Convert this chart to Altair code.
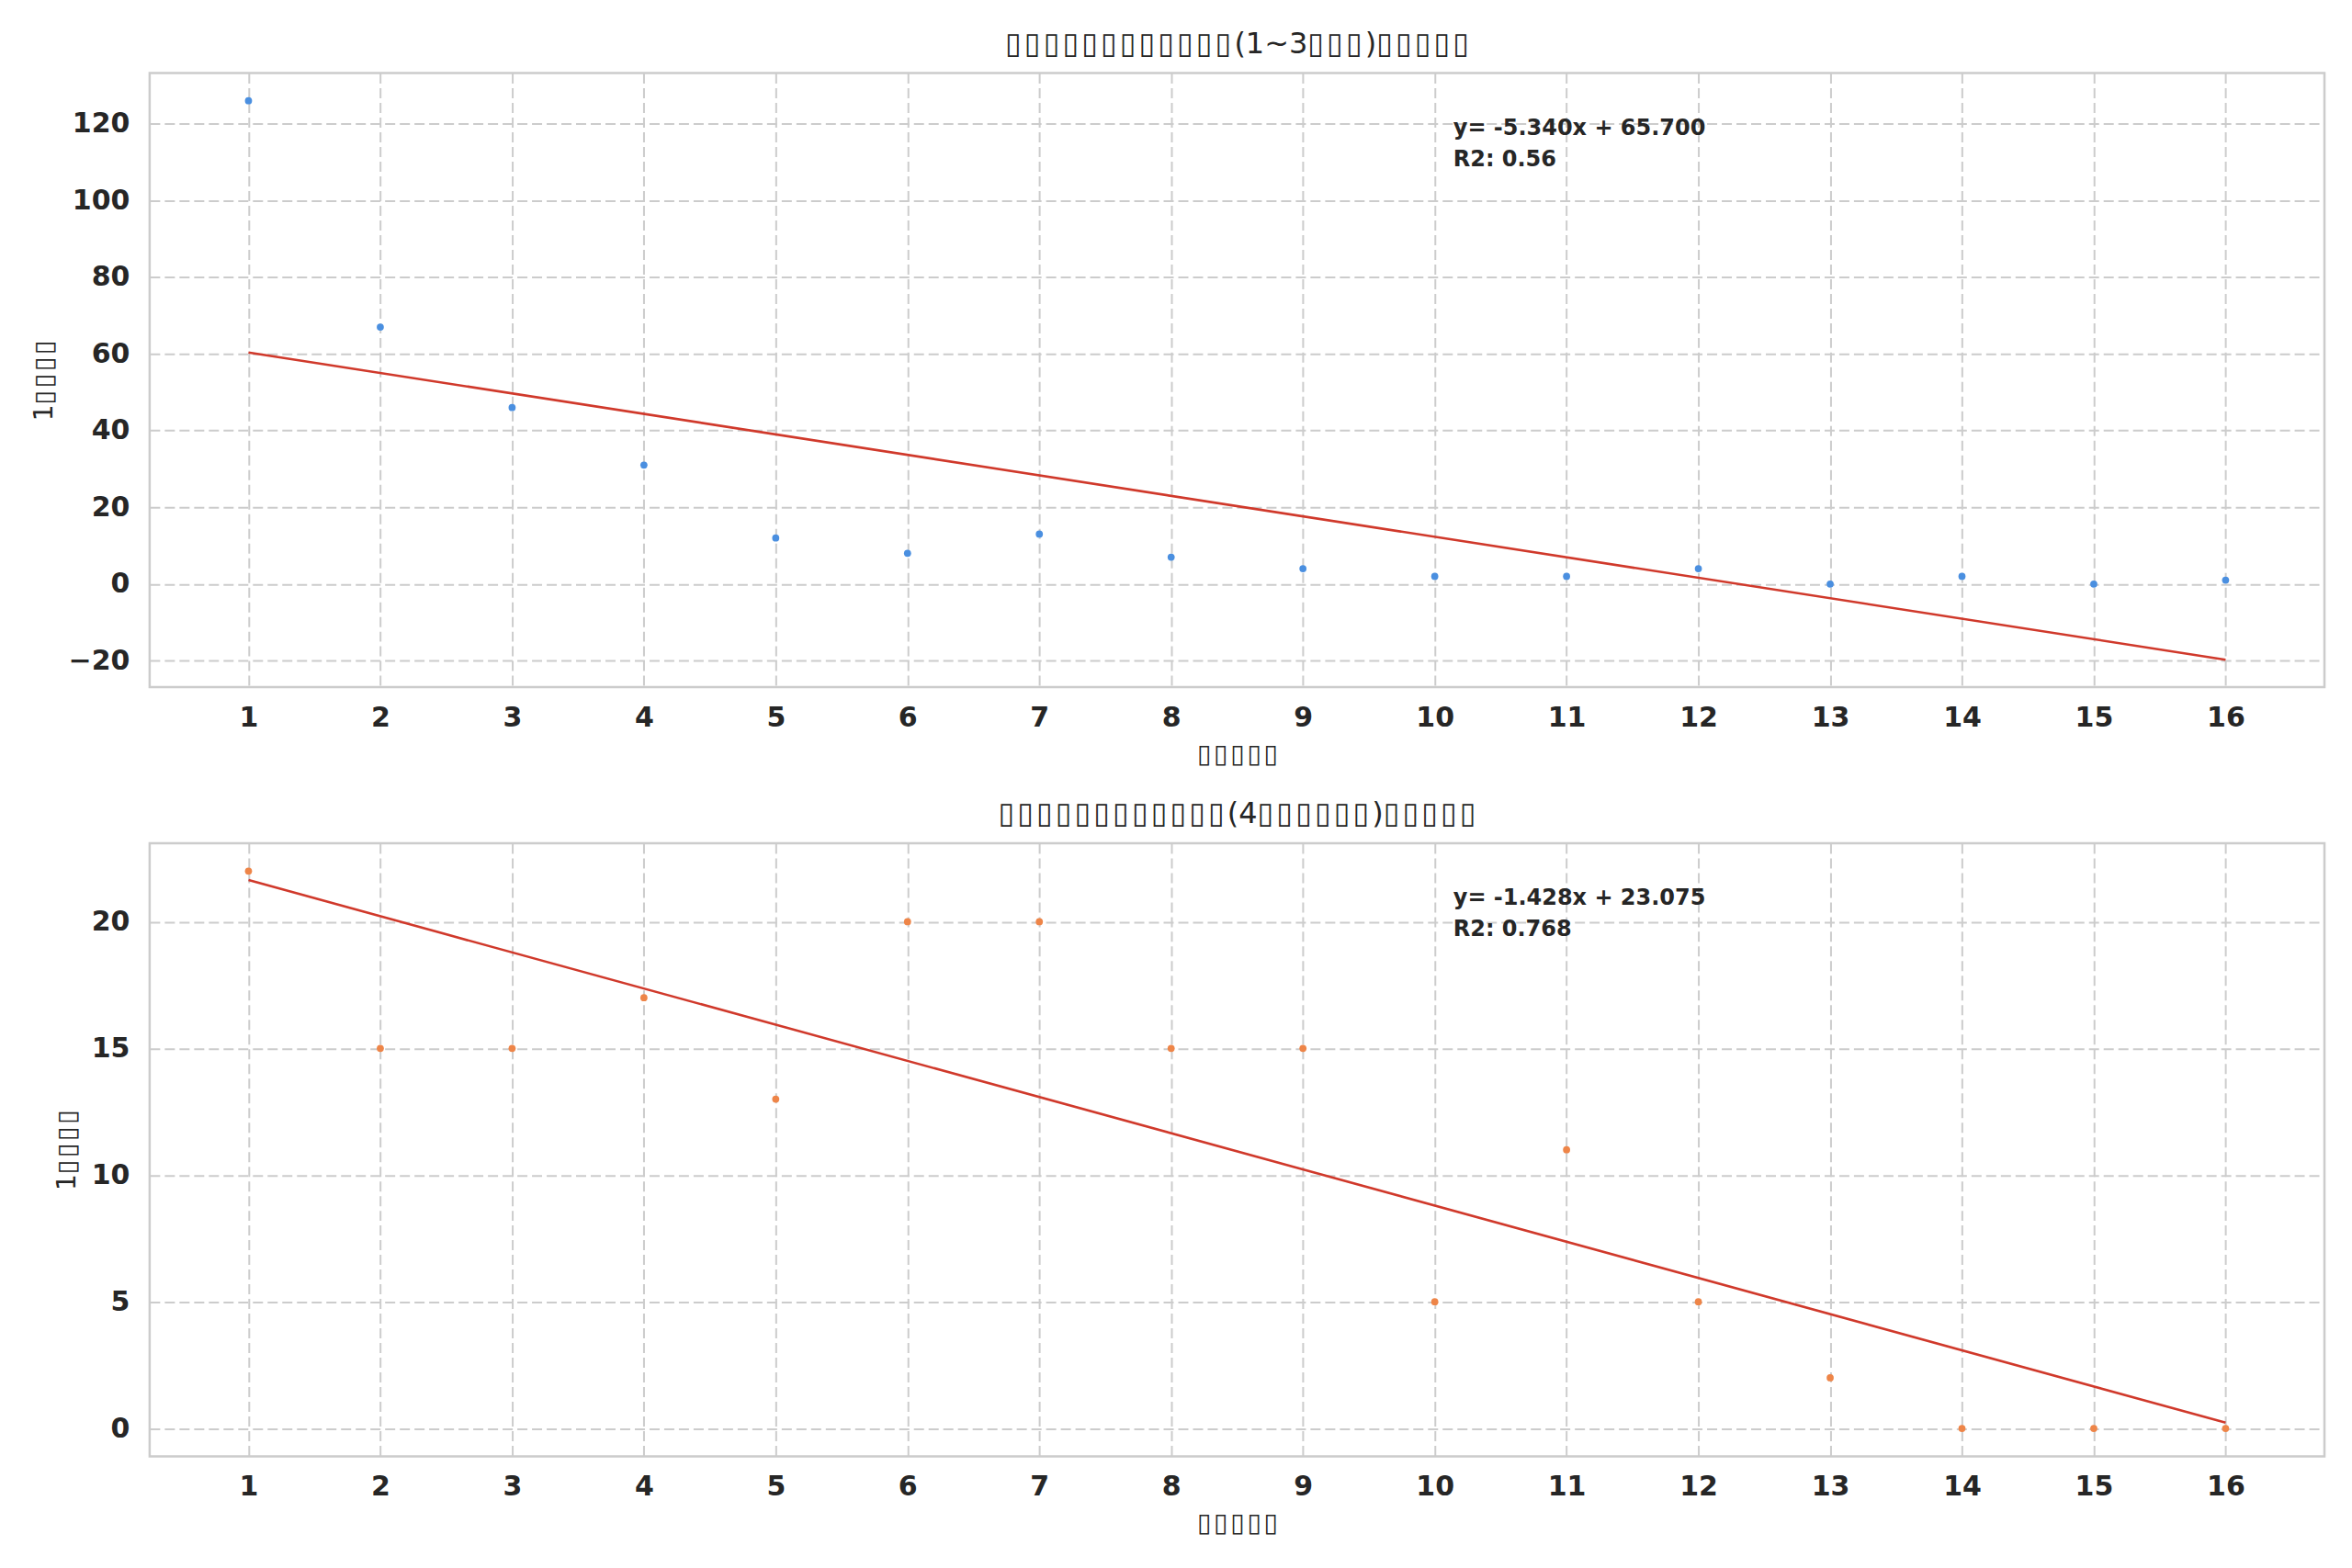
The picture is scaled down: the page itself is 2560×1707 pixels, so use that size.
import altair as alt
import pandas as pd

B = "\u25af\u200a"

x_values = list(range(1, 17))
top_values = [126, 67, 46, 31, 12, 8, 13, 7, 4, 2, 2, 4, 0, 2, 0, 1]
bottom_values = [22, 15, 15, 17, 13, 20, 20, 15, 15, 5, 11, 5, 2, 0, 0, 0]

top_title = B * 12 + "(1~3" + B * 3 + ")" + B * 5
bottom_title = B * 12 + "(4" + B * 6 + ")" + B * 5
x_title = B * 5
y_title = "1" + B * 4

top_note = ["y= -5.340x + 65.700", "R2: 0.56"]
bottom_note = ["y= -1.428x + 23.075", "R2: 0.768"]

top_yticks = [-20, 0, 20, 40, 60, 80, 100, 120]
bottom_yticks = [0, 5, 10, 15, 20]

W = 2369
TEXT = "#262626"


def panel(values, color, title, note, ydomain, yticks, h):
    df = pd.DataFrame({"x": x_values, "y": values})
    base = alt.Chart(df)
    xenc = alt.X("x:Q", scale=alt.Scale(domain=[0.25, 16.75], nice=False, zero=False),
                 axis=alt.Axis(values=x_values, title=x_title, format="d"))
    yenc = alt.Y("y:Q", scale=alt.Scale(domain=ydomain, nice=False, zero=False),
                 axis=alt.Axis(values=yticks, title=y_title, format="d"))
    pts = base.mark_circle(size=60, opacity=1, color=color).encode(x=xenc, y=yenc)
    line = base.transform_regression("x", "y", extent=[1, 16]).mark_line(
        color="#d0392b", strokeWidth=2.6).encode(x=xenc, y=yenc)
    txt = alt.Chart(pd.DataFrame({"a": [0]})).mark_text(
        text=note, align="left", baseline="top", font="DejaVu Sans",
        fontSize=24, fontWeight="bold", color=TEXT, lineHeight=34,
    ).encode(x=alt.value(1420), y=alt.value(48))
    return alt.layer(line, pts, txt).properties(
        width=W, height=h,
        title=alt.TitleParams(title, fontSize=32, font="DejaVu Sans", fontWeight="normal",
                              color=TEXT, offset=15),
    )


top = panel(top_values, "#4a8fe0", top_title, top_note, [-26.9, 133.2], top_yticks, 669)
bottom = panel(bottom_values, "#ee8548", bottom_title, bottom_note, [-1.1, 23.1], bottom_yticks, 668)

chart = alt.vconcat(top, bottom, spacing=31).properties(
    padding={"left": 24, "top": 21, "right": 20, "bottom": 20},
    background="white",
).configure_view(
    stroke="#cccccc", strokeWidth=2.5
).configure_axis(
    grid=True, gridColor="#cccccc", gridDash=[11, 5], gridWidth=2,
    domain=False, ticks=False,
    labelFont="DejaVu Sans", labelFontSize=30, labelFontWeight="bold", labelColor=TEXT,
    titleFont="DejaVu Sans", titleFontSize=28, titleFontWeight="normal", titleColor=TEXT,
).configure_axisX(
    labelPadding=18, titlePadding=11
).configure_axisY(
    labelPadding=22, titlePadding=12
)

chart.save("out.html", embed_options={"renderer": "svg", "actions": False})
